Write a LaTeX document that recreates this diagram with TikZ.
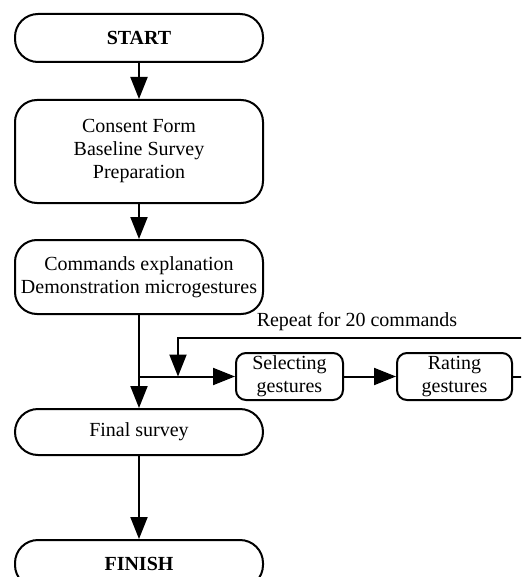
\documentclass[tikz,border=0pt]{standalone}
\usepackage{fontspec}
\setmainfont{Liberation Serif}
\usetikzlibrary{arrows.meta}
\tikzset{
    PI/.style ={rectangle,rounded corners=23pt,minimum width = 248pt, draw, line width=2pt, inner sep=0pt},
    RB/.style ={rectangle,rounded corners=22pt,minimum width = 248pt, draw, line width=2pt, align=center, inner sep=0pt},
    SB/.style ={rectangle,rounded corners=10pt,minimum height = 47pt, draw, line width=2pt, align=center, inner sep=0pt},
    AR/.style ={line width=2pt,-{Triangle[length=22pt,width=17pt]}},
    LN/.style ={line width=2pt}}

\begin{document}
\begin{tikzpicture}[x=1pt,y=-1pt,every node/.style={font=\fontsize{20}{23}\selectfont}]
        \useasboundingbox[fill=white] (0,0) rectangle (521,577);
        \clip (0,0) rectangle (521,577);
        \node[PI,minimum height=48pt] (start) at(139,38){\textbf{START}};
        \node[RB,minimum height=103pt] (consent) at(139,151.5){Consent Form\\Baseline Survey\\Preparation};
        \node[RB,minimum height=74pt] (cmds) at(139,277){Commands explanation\\Demonstration microgestures};
        \node[SB,minimum width=107pt] (select) at(289.5,376.5){Selecting\\gestures};
        \node[SB,minimum width=115pt] (rate) at(454.5,376.5){Rating\\gestures};
        \node[PI,minimum height=46pt] (final) at(139,432){Final survey};
        \node[PI,minimum height=48pt] (finish) at(139,564){\textbf{FINISH}};
        \node (repeat) at(357,322){Repeat for 20 commands};
        \coordinate (split) at(139,376.5);
        \coordinate (loopin) at(178,376.5);
        \coordinate (loopout) at(545,376.5);
        \draw[AR] (start) --(consent);
        \draw[AR] (consent) --(cmds);
        \draw[AR] (cmds) --(final);
        \draw[AR] (split) --(select);
        \draw[AR] (select) --(rate);
        \draw[LN] (rate) --(loopout);
        \draw[AR] (loopout) |- (178,338) --(loopin);
        \draw[AR] (final) --(finish);
    \end{tikzpicture}
\end{document}
